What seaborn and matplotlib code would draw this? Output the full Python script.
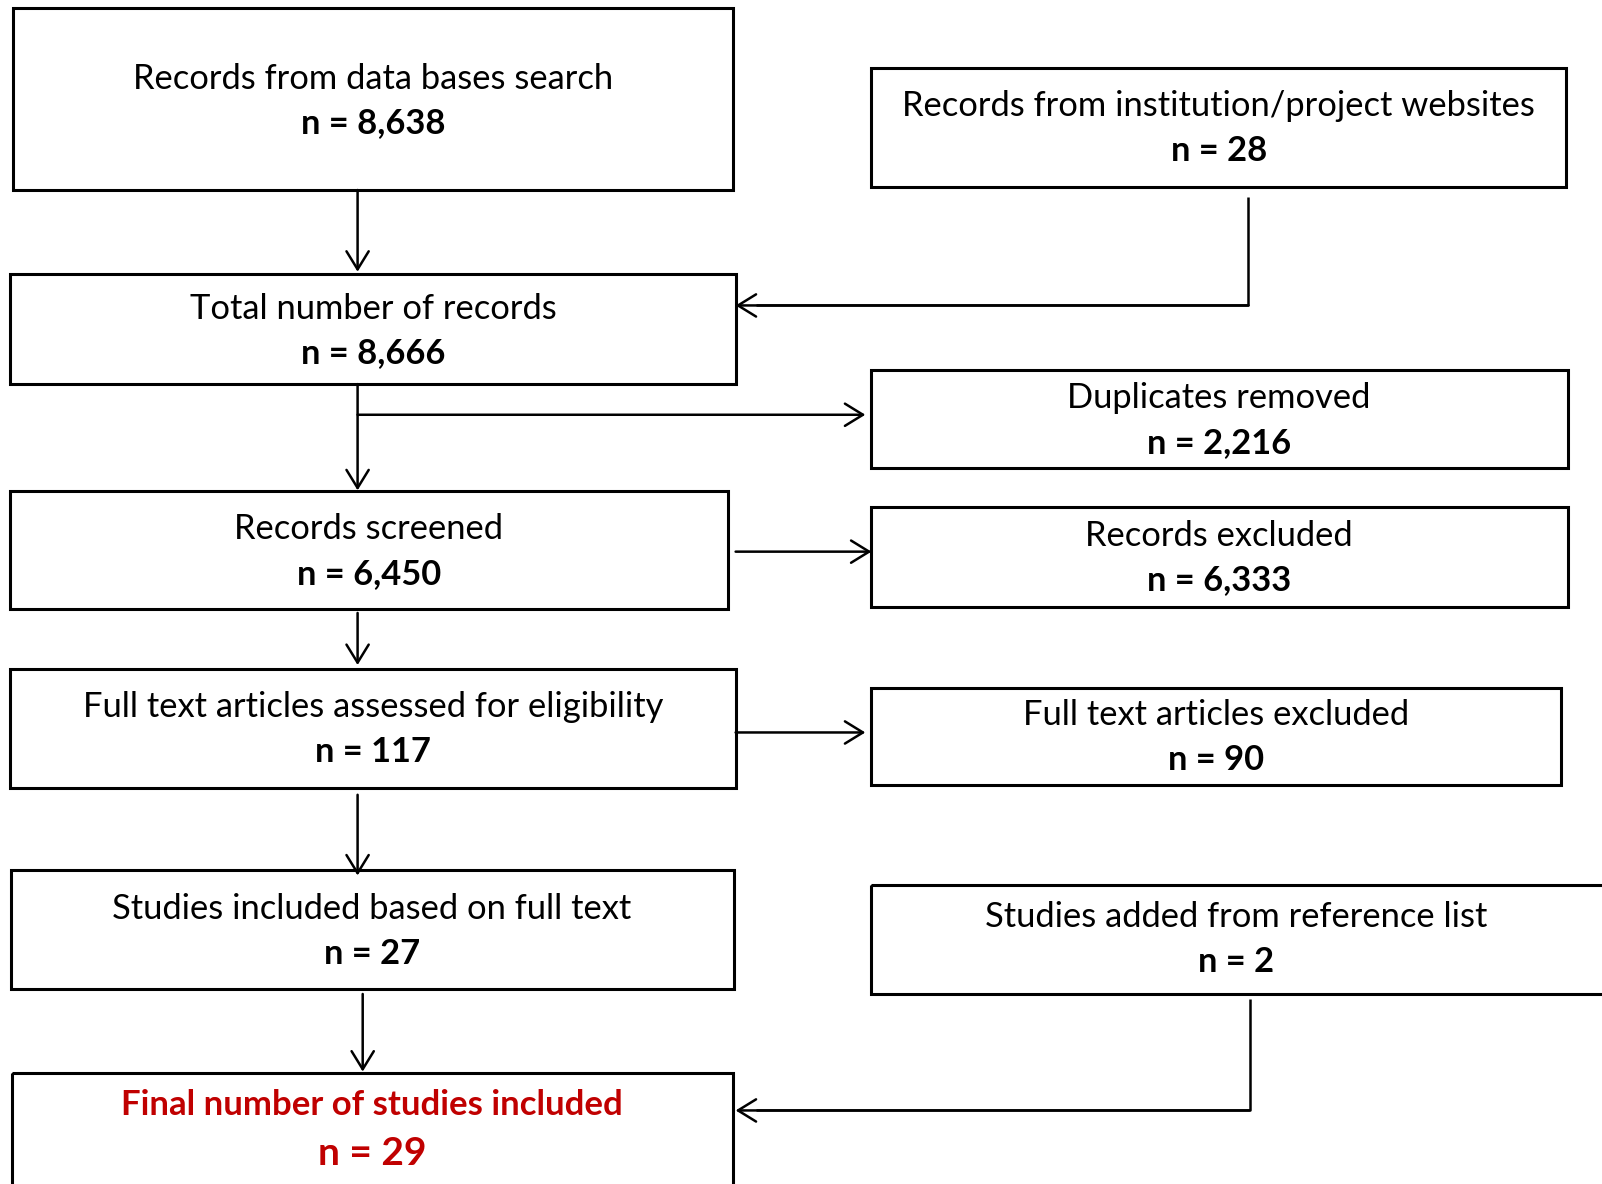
import matplotlib
matplotlib.use("Agg")
import matplotlib.pyplot as plt
import seaborn as sns
from matplotlib.patches import Rectangle

# flowchart content
stage_labels = [
    "Records from data bases search",
    "Records from institution/project websites",
    "Total number of records",
    "Duplicates removed",
    "Records screened",
    "Records excluded",
    "Full text articles assessed for eligibility",
    "Full text articles excluded",
    "Studies included based on full text",
    "Studies added from reference list",
    "Final number of studies included",
]
stage_counts = ["8,638", "28", "8,666", "2,216", "6,450", "6,333",
                "117", "90", "27", "2", "29"]

# layout: (x0, y0, x1, y1) in page units, and text line positions
boxes = [
    (13, 8, 717, 186), (853, 67, 1533, 183),
    (10, 268, 720, 376), (853, 362, 1535, 458),
    (10, 481, 713, 596), (853, 496, 1535, 594),
    (10, 655, 720, 771), (853, 673, 1528, 768),
    (11, 852, 718, 968), (853, 866, 1570, 973),
    (12, 1050, 717, 1200),
]
text_y = [(77, 120), (104, 148), (302, 346), (390, 434), (518, 562),
          (525, 568), (692, 736), (700, 744), (890, 934), (898, 942),
          (1082, 1129)]
text_x = [365, 1193, 365, 1193, 361, 1193, 365, 1190, 364, 1210, 364]

sns.set_theme(style="white")
plt.rcParams["font.family"] = ["Lato", "DejaVu Sans"]

fig = plt.figure(figsize=(16.02, 11.84), dpi=100)
ax = fig.add_axes([0, 0, 1, 1])
ax.set_xlim(0, 1568)
ax.set_ylim(1159, 0)
ax.axis("off")

for i, (x0, y0, x1, y1) in enumerate(boxes):
    ax.add_patch(Rectangle((x0, y0), x1 - x0, y1 - y0, fill=False,
                           edgecolor="black", lw=2.2))
    last = i == len(boxes) - 1
    color = "#C00000" if last else "black"
    ax.text(text_x[i], text_y[i][0], stage_labels[i], ha="center", va="center",
            fontsize=25 if last else 24.8, color=color,
            fontweight="bold" if last else "normal")
    ax.text(text_x[i], text_y[i][1], "n = " + stage_counts[i], ha="center",
            va="center", fontsize=28 if last else 24.8, color=color,
            fontweight="bold")

arrow_kw = dict(arrowstyle="->,head_length=0.65,head_width=0.4", lw=1.8,
                color="black", shrinkA=0, shrinkB=0, mutation_scale=20)


def arrow(start, end):
    ax.annotate("", xy=end, xytext=start, arrowprops=arrow_kw)


def line(xs, ys):
    ax.plot(xs, ys, color="black", lw=1.8, solid_capstyle="butt")


arrow((350, 186), (350, 266))
line([1222, 1222, 740], [193, 299, 299])
arrow((1222, 299), (720, 299))
arrow((350, 376), (350, 480))
arrow((350, 406), (847, 406))
arrow((720, 540), (853, 540))
arrow((350, 600), (350, 651))
arrow((720, 717), (847, 717))
arrow((350, 778), (350, 857))
arrow((355, 973), (355, 1049))
line([1223, 1223, 740], [978, 1087, 1087])
arrow((1223, 1087), (720, 1087))

fig.savefig("out.png", dpi=100)
